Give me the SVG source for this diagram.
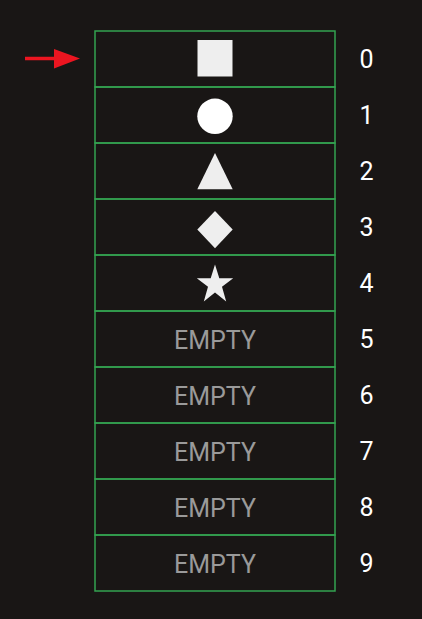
<svg xmlns="http://www.w3.org/2000/svg" width="422" height="619" viewBox="0 0 422 619">
<style>
.cell{fill:none;stroke:#33a350;stroke-width:1.5}
.shape{fill:#eeeeee}
.empty{font-family:Roboto,"Liberation Sans",sans-serif;font-size:25px;fill:#9a9a9a;text-anchor:middle}
.idx{font-family:Roboto,"Liberation Sans",sans-serif;font-size:25px;fill:#ffffff;text-anchor:middle}
</style>
<rect width="422" height="619" fill="#191615"/>
<g id="connectors">
<line x1="25" y1="58.5" x2="57" y2="58.5" stroke="#ec1520" stroke-width="3.5"/>
<polygon points="54,49 80,58.5 54,68.5" fill="#ec1520"/>
</g>
<g id="cell0"><rect class="cell" x="95" y="31" width="240" height="56"/><rect class="shape" x="197.5" y="40" width="35" height="36.5"/><text class="idx" x="366.5" y="68">0</text></g>
<g id="cell1"><rect class="cell" x="95" y="87" width="240" height="56"/><circle cx="215" cy="116.3" r="17.7" fill="#ffffff"/><text class="idx" x="366.5" y="124">1</text></g>
<g id="cell2"><rect class="cell" x="95" y="143" width="240" height="56"/><polygon class="shape" points="215,153 232.7,189.3 197.3,189.3"/><text class="idx" x="366.5" y="180">2</text></g>
<g id="cell3"><rect class="cell" x="95" y="199" width="240" height="56"/><polygon class="shape" points="215,211 232.7,229.6 215,248.3 197.3,229.6"/><text class="idx" x="366.5" y="236">3</text></g>
<g id="cell4"><rect class="cell" x="95" y="255" width="240" height="56"/><polygon class="shape" points="215,264.5 219.3,278.3 233.2,278.3 222,286.8 226.2,301.5 215,292.5 203.8,301.5 208,286.8 196.8,278.3 210.7,278.3"/><text class="idx" x="366.5" y="292">4</text></g>
<g id="cell5"><rect class="cell" x="95" y="311" width="240" height="56"/><text class="empty" x="215" y="348.5">EMPTY</text><text class="idx" x="366.5" y="348">5</text></g>
<g id="cell6"><rect class="cell" x="95" y="367" width="240" height="56"/><text class="empty" x="215" y="404.5">EMPTY</text><text class="idx" x="366.5" y="404">6</text></g>
<g id="cell7"><rect class="cell" x="95" y="423" width="240" height="56"/><text class="empty" x="215" y="460.5">EMPTY</text><text class="idx" x="366.5" y="460">7</text></g>
<g id="cell8"><rect class="cell" x="95" y="479" width="240" height="56"/><text class="empty" x="215" y="516.5">EMPTY</text><text class="idx" x="366.5" y="516">8</text></g>
<g id="cell9"><rect class="cell" x="95" y="535" width="240" height="56"/><text class="empty" x="215" y="572.5">EMPTY</text><text class="idx" x="366.5" y="572">9</text></g>
</svg>
